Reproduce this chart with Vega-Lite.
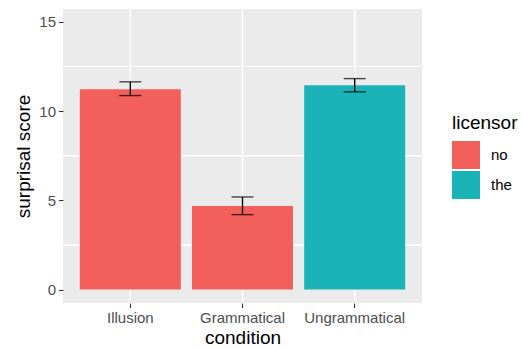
{
  "$schema": "https://vega.github.io/schema/vega-lite/v6.json",
  "width": 359,
  "height": 294,
  "autosize": {"type": "none"},
  "padding": {"left": 63, "top": 9, "right": 101, "bottom": 46},
  "background": "white",
  "config": {
    "view": {"fill": "#EBEBEB", "stroke": null},
    "font": "Liberation Sans",
    "axis": {
      "domain": false,
      "gridColor": "white",
      "gridWidth": 1.5,
      "tickColor": "#333333",
      "tickSize": 4.5,
      "tickWidth": 1.1,
      "labelColor": "#4D4D4D",
      "labelFontSize": 15,
      "labelFont": "Liberation Sans",
      "titleFont": "Liberation Sans",
      "titleFontSize": 19,
      "titleFontWeight": "normal",
      "titleColor": "black"
    },
    "axisX": {"labelAngle": 0, "bandPosition": 0.5, "labelPadding": 3, "titlePadding": 3},
    "legend": {
      "titleFont": "Liberation Sans",
      "labelFont": "Liberation Sans",
      "titleFontSize": 19,
      "titleFontWeight": "normal",
      "titleColor": "black",
      "labelFontSize": 15,
      "labelColor": "black"
    }
  },
  "data": {
    "values": [
      {"condition": "Illusion", "licensor": "no", "score": 11.23, "lo": 10.87, "hi": 11.64},
      {"condition": "Grammatical", "licensor": "no", "score": 4.68, "lo": 4.2, "hi": 5.19},
      {"condition": "Ungrammatical", "licensor": "the", "score": 11.45, "lo": 11.08, "hi": 11.82}
    ]
  },
  "layer": [
    {
      "mark": {"type": "rule", "color": "white", "strokeWidth": 0.9},
      "encoding": {"y": {"datum": 2.5, "type": "quantitative"}}
    },
    {
      "mark": {"type": "rule", "color": "white", "strokeWidth": 0.9},
      "encoding": {"y": {"datum": 7.5, "type": "quantitative"}}
    },
    {
      "mark": {"type": "rule", "color": "white", "strokeWidth": 0.9},
      "encoding": {"y": {"datum": 12.5, "type": "quantitative"}}
    },
    {
      "mark": {"type": "rule", "color": "white", "strokeWidth": 1.5},
      "encoding": {
        "x": {
          "field": "condition",
          "type": "nominal",
          "sort": ["Illusion", "Grammatical", "Ungrammatical"],
          "scale": {"paddingInner": 0.1, "paddingOuter": 0.15},
          "axis": {"labelAngle": 0, "bandPosition": 0.5, "labelPadding": 3, "titlePadding": 3, "title": "condition"}
        },
        "y": {"datum": -0.75, "type": "quantitative"},
        "y2": {"datum": 15.72}
      }
    },
    {
      "mark": {"type": "bar"},
      "encoding": {
        "x": {
          "field": "condition",
          "type": "nominal",
          "sort": ["Illusion", "Grammatical", "Ungrammatical"],
          "scale": {"paddingInner": 0.1, "paddingOuter": 0.15},
          "axis": {"labelAngle": 0, "bandPosition": 0.5, "labelPadding": 3, "titlePadding": 3, "title": "condition"}
        },
        "y": {
          "field": "score",
          "type": "quantitative",
          "scale": {"domain": [-0.75, 15.72], "nice": false, "zero": false},
          "axis": {"values": [0, 5, 10, 15], "title": "surprisal score", "titlePadding": 5, "labelPadding": 3}
        },
        "color": {
          "field": "licensor",
          "type": "nominal",
          "scale": {"domain": ["no", "the"], "range": ["#F35F5B", "#19B3B8"]},
          "legend": {
            "orient": "none",
            "legendX": 389,
            "legendY": 105,
            "symbolType": "square",
            "symbolSize": 784,
            "symbolStrokeWidth": 0,
            "symbolOpacity": 1,
            "rowPadding": 2,
            "labelOffset": 11,
            "titlePadding": 8,
            "padding": 0
          }
        }
      }
    },
    {
      "mark": {"type": "rule", "color": "black", "strokeWidth": 1.4},
      "encoding": {
        "x": {
          "field": "condition",
          "type": "nominal",
          "sort": ["Illusion", "Grammatical", "Ungrammatical"],
          "scale": {"paddingInner": 0.1, "paddingOuter": 0.15},
          "axis": {"labelAngle": 0, "bandPosition": 0.5, "labelPadding": 3, "titlePadding": 3, "title": "condition"}
        },
        "y": {"field": "lo", "type": "quantitative"},
        "y2": {"field": "hi"}
      }
    },
    {
      "mark": {"type": "tick", "color": "black", "thickness": 1.4, "size": 22},
      "encoding": {
        "x": {
          "field": "condition",
          "type": "nominal",
          "sort": ["Illusion", "Grammatical", "Ungrammatical"],
          "scale": {"paddingInner": 0.1, "paddingOuter": 0.15},
          "axis": {"labelAngle": 0, "bandPosition": 0.5, "labelPadding": 3, "titlePadding": 3, "title": "condition"}
        },
        "y": {"field": "lo", "type": "quantitative"}
      }
    },
    {
      "mark": {"type": "tick", "color": "black", "thickness": 1.4, "size": 22},
      "encoding": {
        "x": {
          "field": "condition",
          "type": "nominal",
          "sort": ["Illusion", "Grammatical", "Ungrammatical"],
          "scale": {"paddingInner": 0.1, "paddingOuter": 0.15},
          "axis": {"labelAngle": 0, "bandPosition": 0.5, "labelPadding": 3, "titlePadding": 3, "title": "condition"}
        },
        "y": {"field": "hi", "type": "quantitative"}
      }
    }
  ]
}
